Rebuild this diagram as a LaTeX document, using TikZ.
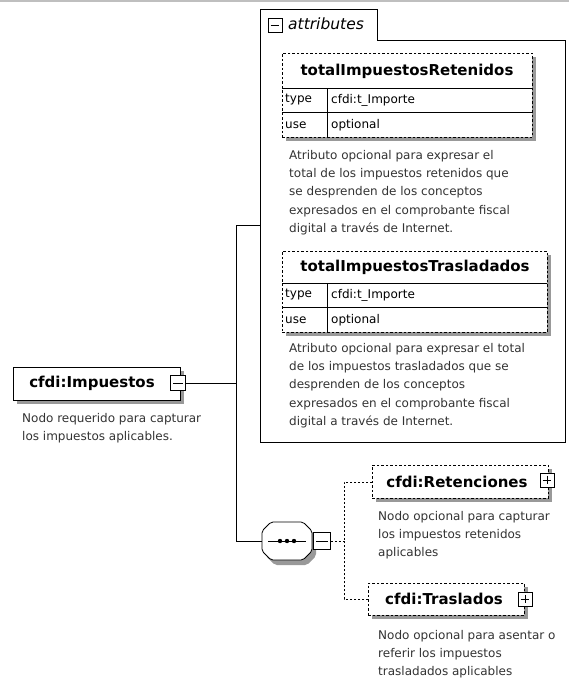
\documentclass[tikz,border=0pt]{standalone}
\usepackage{fontspec}
\setmainfont{DejaVu Sans}
\usetikzlibrary{shadows}
\begin{document}
\begin{tikzpicture}[x=1pt,y=-1pt,
  solidbox/.style={draw=black, line width=0.8pt, fill=white, inner sep=0, anchor=north west},
  optbox/.style={draw=black, line width=0.8pt, dash pattern=on 2.5pt off 2pt, fill=white, inner sep=0, anchor=north west},
  shad/.style={drop shadow={shadow xshift=4pt, shadow yshift=-4pt, fill=black!40, opacity=1, draw=none}},
  ttl/.style={font=\bfseries\fontsize{15}{17}\selectfont, inner sep=0},
  cell/.style={font=\fontsize{12}{14}\selectfont, anchor=west, inner sep=0},
  desc/.style={font=\fontsize{12}{18.3}\selectfont, text=black!80, align=left, anchor=north west, inner sep=0},
  conn/.style={draw=black, line width=0.8pt},
  dconn/.style={draw=black, line width=0.8pt, dash pattern=on 2pt off 2pt},
  pmbox/.style={draw=black, line width=0.9pt, fill=white, minimum size=14pt, inner sep=0},
]
\useasboundingbox[fill=white] (0,0) rectangle (569,680);
\fill[black!25] (0,0) rectangle (569,1.5);

% attributes container
\draw[line width=0.8pt] (260,442) -- (260,9) -- (377,9) -- (377,40) -- (565,40) -- (565,442) -- cycle;
\node[inner sep=0, minimum width=305, minimum height=402, anchor=north west] (attrs) at (260,40) {};
\node[pmbox, minimum size=14pt] (attrminus) at (275,25) {};
\draw[line width=0.9pt] ([xshift=3pt]attrminus.west) -- ([xshift=-3pt]attrminus.east);
\node[font=\itshape\fontsize{15.5}{17}\selectfont, anchor=west, inner sep=0] (attrlbl) at (288,24) {attributes};

% totalImpuestosRetenidos
\node[optbox, shad, minimum width=250, minimum height=84] (ret) at (282,53) {};
\draw[line width=0.8pt] (282,88) -- (532,88) (282,112) -- (532,112) (327,88) -- (327,137);
\node[ttl] (rettitle) at (407,71) {totalImpuestosRetenidos};
\node[cell] (rettype) at (285,100) {type};
\node[cell] (rettypev) at (331,100) {cfdi:t\_Importe};
\node[cell] (retuse) at (285,125) {use};
\node[cell] (retusev) at (331,125) {optional};
\node[desc] (retdesc) at (289,150) {Atributo opcional para expresar el\\total de los impuestos retenidos que\\se desprenden de los conceptos\\expresados en el comprobante fiscal\\digital a través de Internet.};

% totalImpuestosTrasladados
\node[optbox, shad, minimum width=265, minimum height=81] (tra) at (282,251) {};
\draw[line width=0.8pt] (282,283) -- (547,283) (282,307) -- (547,307) (327,283) -- (327,332);
\node[ttl] (tratitle) at (415,267) {totalImpuestosTrasladados};
\node[cell] (tratype) at (285,295) {type};
\node[cell] (tratypev) at (331,295) {cfdi:t\_Importe};
\node[cell] (trause) at (285,320) {use};
\node[cell] (trausev) at (331,320) {optional};
\node[desc] (tradesc) at (289,343) {Atributo opcional para expresar el total\\de los impuestos trasladados que se\\desprenden de los conceptos\\expresados en el comprobante fiscal\\digital a través de Internet.};

% cfdi:Impuestos
\node[solidbox, shad, minimum width=167, minimum height=33] (imp) at (13,367) {};
\node[ttl] (imptitle) at (92,383) {cfdi:Impuestos};
\node[pmbox, minimum size=15pt] (impminus) at (178,383) {};
\draw[line width=0.9pt] ([xshift=3pt]impminus.west) -- ([xshift=-3pt]impminus.east);
\node[desc] (impdesc) at (22,413) {Nodo requerido para capturar\\los impuestos aplicables.};

% sequence compositor
\node[inner sep=0, minimum width=50, minimum height=38] (seq) at (287,541) {};
\fill[black!40, rounded corners=2pt] (275,527) -- (307,527) -- (316,536) -- (316,556) -- (307,565) -- (275,565) -- (266,556) -- (266,536) -- cycle;
\draw[line width=0.8pt, fill=white, rounded corners=2pt] (271,522) -- (303,522) -- (312,531) -- (312,551) -- (303,560) -- (271,560) -- (262,551) -- (262,531) -- cycle;
\draw[line width=0.8pt] (268,541) -- (306,541);
\fill (280,541) circle (2.2) (287,541) circle (2.2) (294,541) circle (2.2);
\node[pmbox, minimum size=17pt] (seqminus) at (322,541) {};
\draw[line width=0.9pt] ([xshift=3pt]seqminus.west) -- ([xshift=-3pt]seqminus.east);

% cfdi:Retenciones
\node[optbox, shad, minimum width=176, minimum height=33] (retc) at (372,465) {};
\node[ttl] (retctitle) at (457,482) {cfdi:Retenciones};
\node[pmbox, minimum size=14pt] (retcplus) at (547,480) {};
\draw[line width=0.9pt] ([xshift=3pt]retcplus.west) -- ([xshift=-3pt]retcplus.east) ([yshift=-3pt]retcplus.north) -- ([yshift=3pt]retcplus.south);
\node[desc] (retcdesc) at (378,511) {Nodo opcional para capturar\\los impuestos retenidos\\aplicables};

% cfdi:Traslados
\node[optbox, shad, minimum width=156, minimum height=32] (trac) at (368,583) {};
\node[ttl] (tractitle) at (444,599) {cfdi:Traslados};
\node[pmbox, minimum size=14pt] (tracplus) at (525,599) {};
\draw[line width=0.9pt] ([xshift=3pt]tracplus.west) -- ([xshift=-3pt]tracplus.east) ([yshift=-3pt]tracplus.north) -- ([yshift=3pt]tracplus.south);
\node[desc] (tracdesc) at (378,630) {Nodo opcional para asentar o\\referir los impuestos\\trasladados aplicables};

% connectors
\coordinate (spineTop) at (236,225);
\coordinate (attrin) at (260,225);
\coordinate (branch) at (344,541);
\draw[conn] (attrin) -- (spineTop) |- (seq.west);
\draw[conn] (impminus.east) -- (impminus.east -| spineTop);
\draw[dconn] (seqminus.east) -- (branch);
\draw[dconn] (retc.west) -| (branch);
\draw[dconn] (trac.west) -| (branch);
\end{tikzpicture}
\end{document}
